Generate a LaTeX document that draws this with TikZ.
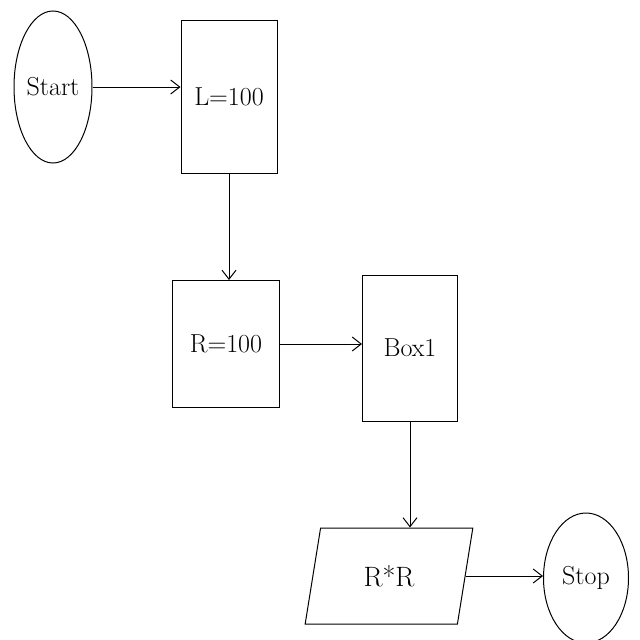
\documentclass[tikz,border=0pt]{standalone}
\usetikzlibrary{shapes.geometric,arrows.meta}
\begin{document}
\begin{tikzpicture}[x=1pt,y=-1pt,
  every node/.style={line width=1pt},
  proc/.style={draw,rectangle,inner sep=0pt,font=\fontsize{26}{30}\selectfont},
  term/.style={draw,ellipse,inner sep=0pt,font=\fontsize{26}{30}\selectfont},
  io/.style={draw,trapezium,trapezium left angle=75,trapezium right angle=105,trapezium stretches=true,inner sep=0pt,font=\fontsize{28}{32}\selectfont},
  conn/.style={line width=1pt,-{Straight Barb[length=9pt,width=14pt]}}]
\useasboundingbox[fill=white] (0,0) rectangle (640,640);
\node[term,minimum width=78pt,minimum height=152pt] (start) at (53,87) {Start};
\node[proc,minimum width=96pt,minimum height=153pt] (l) at (229,97) {L=100};
\node[proc,minimum width=107pt,minimum height=127pt] (r) at (226,344) {R=100};
\node[proc,minimum width=95pt,minimum height=146pt] (box) at (410,348) {Box1};
\node[io,minimum width=168pt,minimum height=96pt] (rr) at (389,576) {R*R};
\node[term,minimum width=85pt,minimum height=130pt] (stop) at (586,578) {Stop};
\draw[conn] (start.east) -- (start.east -| l.west);
\draw[conn] (l.south) -- (l.south |- r.north);
\draw[conn] (r.east) -- (r.east -| box.west);
\draw[conn] (box.south) -- (box.south |- rr.north);
\draw[conn] (rr.east) -- (rr.east -| stop.west);
\end{tikzpicture}
\end{document}
